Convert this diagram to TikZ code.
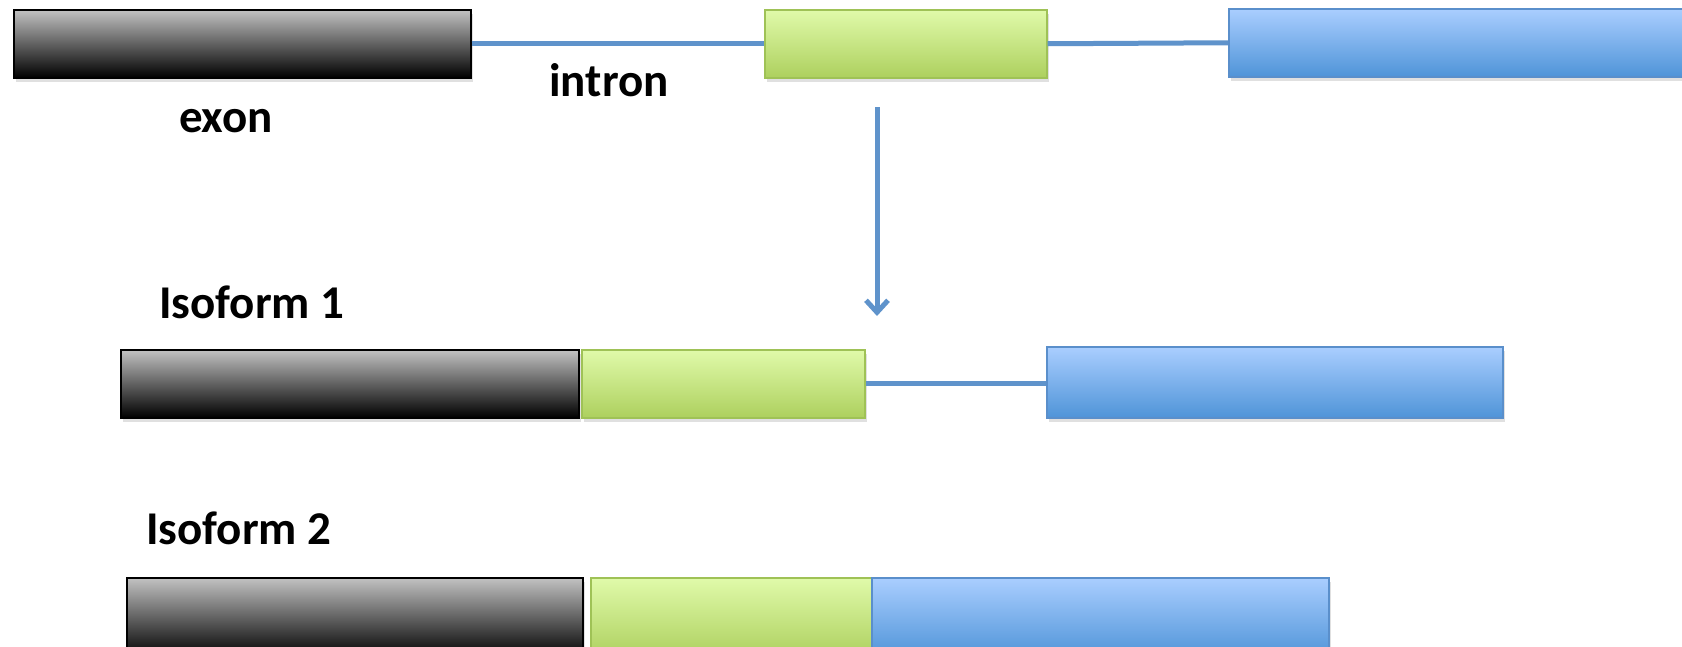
\documentclass[tikz,border=0pt]{standalone}
\usepackage{fontspec}
\setmainfont{Carlito}
\usetikzlibrary{arrows.meta}
\definecolor{ktop}{HTML}{C2C2C2}
\definecolor{kbot}{HTML}{000000}
\definecolor{gtop}{HTML}{E0FAAA}
\definecolor{gbot}{HTML}{ADD05E}
\definecolor{gedge}{HTML}{9FC256}
\definecolor{btop}{HTML}{AACEFF}
\definecolor{bbot}{HTML}{4F94D8}
\definecolor{bedge}{HTML}{5A8FCB}
\definecolor{lineblue}{HTML}{5F93CB}
\begin{document}
\begin{tikzpicture}[x=1pt,y=-1pt,
  seg/.style={rectangle,inner sep=0pt,anchor=north west,minimum height=68pt,line width=1.5pt,
    preaction={fill=black,opacity=0.12,transform canvas={shift={(2pt,-4pt)}}}},
  kseg/.style={seg,draw=black,top color=ktop,bottom color=kbot},
  gseg/.style={seg,draw=gedge,top color=gtop,bottom color=gbot},
  bseg/.style={seg,draw=bedge,top color=btop,bottom color=bbot},
  intronline/.style={draw=lineblue,line width=5pt},
  lbl/.style={font=\fontsize{47}{56}\selectfont\bfseries,inner sep=0pt}]
\useasboundingbox (0,0) rectangle (1682,646);
% row 1
\node[kseg,minimum width=457pt] (k1) at (13,9) {};
\node[gseg,minimum width=282pt] (g1) at (764,9) {};
\node[bseg,minimum width=470pt] (b1) at (1228,8) {};
\draw[intronline] (k1.east) -- (g1.west);
\draw[intronline] (g1.east) -- (b1.west);
\node[lbl] (exon) at (226,121) {exon};
\node[lbl] (intron) at (609,80) {intron};
% arrow
\coordinate (as) at (877,107);
\coordinate (ae) at (877,316);
\draw[lineblue,line width=5pt,-{Straight Barb[length=12pt,width=22pt,line width=5pt]}] (as) -- (ae);
% row 2
\node[lbl,anchor=west] (iso1) at (159,302) {Isoform 1};
\node[kseg,minimum width=458pt] (k2) at (120,349) {};
\node[gseg,minimum width=283pt] (g2) at (581,349) {};
\node[bseg,minimum width=456pt,minimum height=71pt] (b2) at (1046,346) {};
\draw[intronline] (g2.east) -- (g2.east -| b2.west);
% row 3
\node[lbl,anchor=west] (iso2) at (146,528) {Isoform 2};
\node[kseg,minimum width=456pt,minimum height=80pt] (k3) at (126,577) {};
\node[gseg,minimum width=281pt,minimum height=80pt] (g3) at (590,577) {};
\node[bseg,minimum width=457pt,minimum height=80pt] (b3) at (871,577) {};
\end{tikzpicture}
\end{document}
